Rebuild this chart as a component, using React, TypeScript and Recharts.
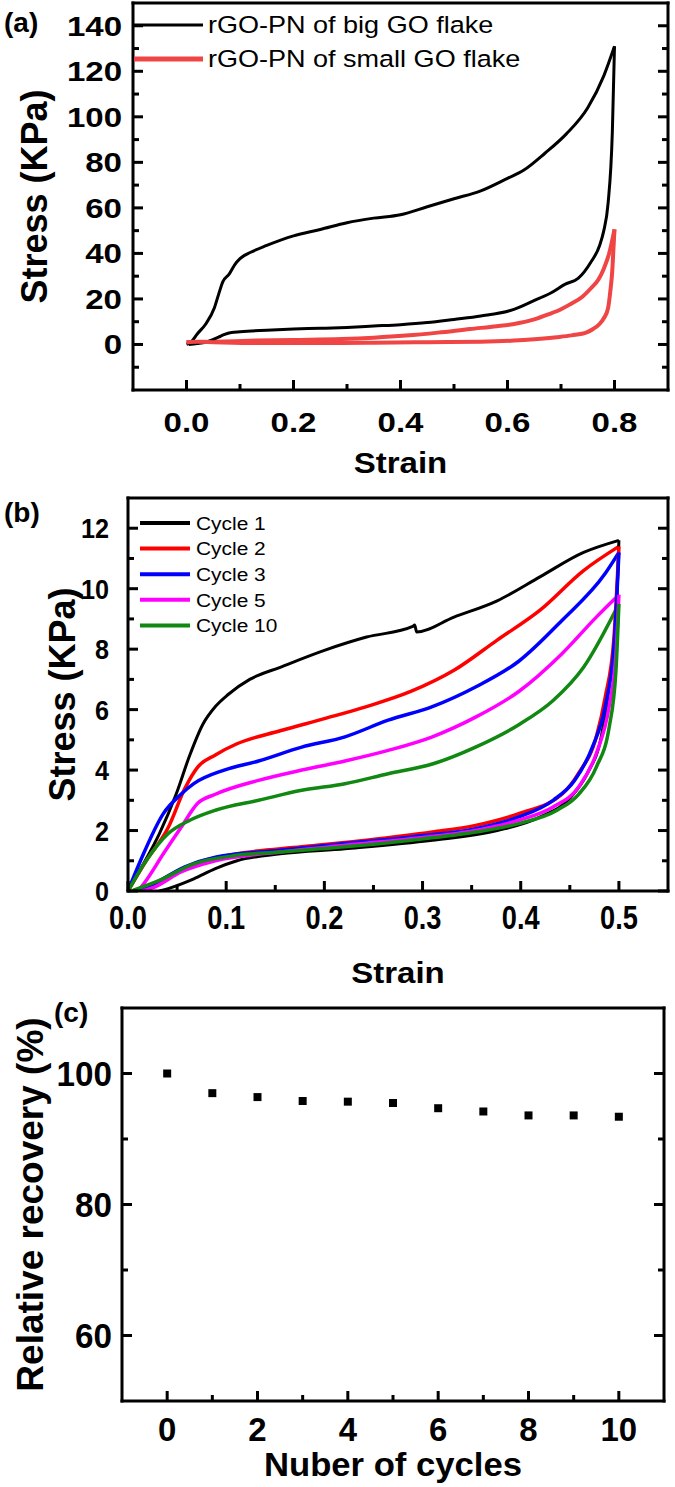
import React from 'react';
import { LineChart, Line, XAxis, YAxis, Legend, ScatterChart, Scatter } from 'recharts';

const FONT = "'Liberation Sans', Arial, Helvetica, sans-serif";

// ---------------- Panel (a) ----------------
const aTicksX = [0, 0.1, 0.2, 0.3, 0.4, 0.5, 0.6, 0.7, 0.8];
const aTicksY = [-10, 0, 10, 20, 30, 40, 50, 60, 70, 80, 90, 100, 110, 120, 130, 140];

const bigLoadStrain = [
  0, 0.01, 0.02, 0.036, 0.052, 0.06, 0.068, 0.08, 0.09, 0.1, 0.12, 0.15, 0.2, 0.25, 0.3, 0.35, 0.4, 0.45,
  0.5, 0.55, 0.6, 0.63, 0.67, 0.71, 0.75, 0.78, 0.8,
];
const bigLoadStress = [
  0, 1.5, 4.6, 9, 16, 22, 27.6, 31, 35, 37.7, 40.5, 43.5, 47.7, 50.5, 53.5, 55.5, 57, 60.5,
  64, 67.5, 73, 76.5, 84, 92.5, 104, 118, 131,
];
const bigUnloadStrain = [
  0.8, 0.796, 0.788, 0.78, 0.772, 0.756, 0.732, 0.708, 0.68, 0.66, 0.612, 0.55, 0.5, 0.45, 0.4, 0.35, 0.3,
  0.25, 0.2, 0.15, 0.1, 0.084, 0.07, 0.06, 0.048, 0.036, 0.02, 0.004,
];
const bigUnloadStress = [
  131, 93.7, 62, 50, 43.4, 36.2, 29, 26.5, 22.5, 20.4, 15.4, 12.5, 11, 9.6, 8.7, 8.1, 7.5,
  7.1, 6.8, 6.3, 5.6, 5.3, 4.3, 3.2, 2, 1, 0.4, 0,
];
const smallLoadStrain = [
  0, 0.05, 0.13, 0.2, 0.29, 0.35, 0.41, 0.47, 0.53, 0.58, 0.61, 0.65, 0.676, 0.7, 0.716, 0.74, 0.756, 0.77,
  0.78, 0.79, 0.8,
];
const smallLoadStress = [
  1, 1.2, 1.7, 2, 2.4, 3, 3.9, 5.2, 6.8, 8, 8.9, 11, 13.2, 15.5, 17.5, 21, 24.7, 28.5,
  33.3, 40, 50.6,
];
const smallUnloadStrain = [
  0.8, 0.798, 0.796, 0.792, 0.788, 0.78, 0.772, 0.76, 0.748, 0.72, 0.692, 0.65, 0.612, 0.55, 0.452, 0.35,
  0.29, 0.2, 0.13, 0.05, 0.02, 0,
];
const smallUnloadStress = [
  50.6, 42, 33, 23, 16, 11.5, 9, 6.8, 5.3, 4, 3.2, 2.3, 1.7, 1.2, 1, 0.8,
  0.7, 0.65, 0.6, 1, 1.2, 1,
];

// ---------------- Panel (b) ----------------
const bTicksX = [0, 0.05, 0.1, 0.15, 0.2, 0.25, 0.3, 0.35, 0.4, 0.45, 0.5];
const bTicksY = [0, 1, 2, 3, 4, 5, 6, 7, 8, 9, 10, 11, 12];

const cycle1LoadStrain = [0, 0.014, 0.032, 0.049, 0.063, 0.076, 0.089, 0.102, 0.124, 0.155, 0.2, 0.243, 0.29, 0.292, 0.294, 0.332, 0.376, 0.42, 0.464, 0.5];
const cycle1LoadStress = [0, 0.8, 1.9, 3.2, 4.5, 5.5, 6.1, 6.5, 7.0, 7.4, 7.96, 8.4, 8.75, 8.8, 8.57, 9.06, 9.6, 10.4, 11.2, 11.6];
const cycle1UnloadStrain = [0.5, 0.497, 0.49, 0.482, 0.468, 0.451, 0.42, 0.376, 0.31, 0.221, 0.155, 0.111, 0.089, 0.067, 0.041, 0.032];
const cycle1UnloadStress = [11.6, 8.95, 6.75, 5.1, 3.9, 3.1, 2.45, 2.0, 1.68, 1.4, 1.23, 1.0, 0.74, 0.4, 0.08, 0];

const cycle2LoadStrain = [0, 0.0185, 0.041, 0.058, 0.071, 0.089, 0.111, 0.155, 0.2, 0.243, 0.288, 0.332, 0.376, 0.42, 0.464, 0.5];
const cycle2LoadStress = [0, 1.0, 2.1, 3.4, 4.1, 4.5, 4.87, 5.3, 5.7, 6.1, 6.6, 7.3, 8.3, 9.3, 10.6, 11.4];
const cycle2UnloadStrain = [0.5, 0.495, 0.486, 0.477, 0.459, 0.442, 0.398, 0.354, 0.31, 0.243, 0.177, 0.111, 0.067, 0.036, 0.014];
const cycle2UnloadStress = [11.4, 8.4, 6.4, 5.1, 3.9, 3.2, 2.56, 2.17, 1.95, 1.68, 1.46, 1.23, 0.9, 0.35, 0];

const cycle3LoadStrain = [0, 0.014, 0.036, 0.054, 0.067, 0.098, 0.133, 0.177, 0.221, 0.265, 0.31, 0.354, 0.398, 0.442, 0.486, 0.5];
const cycle3LoadStress = [0, 1.1, 2.56, 3.2, 3.55, 4.0, 4.3, 4.76, 5.1, 5.65, 6.1, 6.75, 7.6, 8.95, 10.5, 11.2];
const cycle3UnloadStrain = [0.5, 0.495, 0.486, 0.473, 0.455, 0.433, 0.398, 0.354, 0.288, 0.221, 0.155, 0.089, 0.058, 0.027, 0.01];
const cycle3UnloadStress = [11.2, 8.1, 6.1, 4.76, 3.66, 3.0, 2.45, 2.06, 1.79, 1.57, 1.35, 1.12, 0.8, 0.25, 0];

const cycle5LoadStrain = [0.01, 0.0185, 0.036, 0.054, 0.071, 0.089, 0.133, 0.177, 0.221, 0.265, 0.31, 0.354, 0.398, 0.442, 0.477, 0.5];
const cycle5LoadStress = [0, 0.35, 1.23, 2.1, 2.9, 3.2, 3.66, 4.0, 4.3, 4.65, 5.1, 5.75, 6.6, 7.85, 9.06, 9.8];
const cycle5UnloadStrain = [0.5, 0.497, 0.49, 0.477, 0.459, 0.433, 0.398, 0.354, 0.288, 0.221, 0.155, 0.089, 0.054, 0.027, 0.014];
const cycle5UnloadStress = [9.8, 7.85, 6.1, 4.55, 3.44, 2.78, 2.34, 2.0, 1.73, 1.51, 1.29, 1.0, 0.63, 0.13, 0];

const cycle10LoadStrain = [0, 0.0185, 0.041, 0.063, 0.089, 0.133, 0.177, 0.221, 0.265, 0.31, 0.354, 0.398, 0.433, 0.464, 0.5];
const cycle10LoadStress = [0, 1.0, 1.9, 2.34, 2.67, 3.0, 3.33, 3.55, 3.88, 4.2, 4.76, 5.5, 6.3, 7.4, 9.5];
const cycle10UnloadStrain = [0.5, 0.497, 0.49, 0.477, 0.459, 0.437, 0.398, 0.354, 0.288, 0.221, 0.155, 0.111, 0.067, 0.032, 0.005];
const cycle10UnloadStress = [9.5, 7.3, 5.4, 4.1, 3.2, 2.67, 2.23, 1.95, 1.68, 1.46, 1.29, 1.18, 0.9, 0.35, 0.02];

// ---------------- Panel (c) ----------------
const cTicksX = [0, 1, 2, 3, 4, 5, 6, 7, 8, 9, 10];
const cTicksY = [60, 70, 80, 90, 100];
const cycleNumbers = [0, 1, 2, 3, 4, 5, 6, 7, 8, 9, 10];
const relativeRecovery = [100, 97.0, 96.4, 95.8, 95.7, 95.5, 94.7, 94.2, 93.6, 93.6, 93.4];

const zip = (xs: number[], ys: number[]) => xs.map((x, i) => ({ x, y: ys[i] }));

// ---------------- helpers ----------------
type Side = 'bottom' | 'top' | 'left' | 'right';
type TickCfg = {
  side: Side;
  majorStep: number;
  showLabel?: boolean;
  fontSize?: number;
  scaleX?: number;
  gap?: number;
  digits?: number;
};

const isMajor = (v: number, step: number) => Math.abs(v / step - Math.round(v / step)) < 1e-6;

function makeTick(c: TickCfg) {
  return function Tick(props: any) {
    const x = Number(props.x);
    const y = Number(props.y);
    const v = Number(props.payload && props.payload.value);
    const major = isMajor(v, c.majorStep);
    const len = major ? 10 : 6;
    const t = 3;
    let rx = x - t / 2;
    let ry = y - t / 2;
    let rw = t;
    let rh = t;
    if (c.side === 'bottom') { ry = y - len; rh = len; }
    if (c.side === 'top') { ry = y; rh = len; }
    if (c.side === 'left') { rx = x; rw = len; }
    if (c.side === 'right') { rx = x - len; rw = len; }
    let label: React.ReactNode = null;
    if (c.showLabel && major) {
      const txt = c.digits ? v.toFixed(c.digits) : String(v);
      const fs = c.fontSize || 28;
      const cap = fs * 0.716;
      const sx = c.scaleX || 1;
      if (c.side === 'bottom') {
        label = (
          <text transform={`translate(${x},${y + (c.gap || 0) + cap / 2}) scale(${sx},1)`} textAnchor="middle" fontFamily={FONT} fontWeight={700} fontSize={fs} fill="#000">
            {txt}
          </text>
        );
      } else if (c.side === 'left') {
        label = (
          <text transform={`translate(${x - (c.gap || 0)},${y + cap / 2}) scale(${sx},1)`} textAnchor="end" fontFamily={FONT} fontWeight={700} fontSize={fs} fill="#000">
            {txt}
          </text>
        );
      }
    }
    return (
      <g>
        <rect x={rx} y={ry} width={rw} height={rh} fill="#000" stroke="none" />
        {label}
      </g>
    );
  };
}

function xTitle(text: string, dy: number, fs: number, sx: number) {
  return (props: any) => {
    const vb = props.viewBox || {};
    const cx = vb.x + vb.width / 2;
    const cy = vb.y + dy + (fs * 0.716) / 2;
    return (
      <text transform={`translate(${cx},${cy}) scale(${sx},1)`} textAnchor="middle" fontFamily={FONT} fontWeight={700} fontSize={fs} fill="#000">
        {text}
      </text>
    );
  };
}

function yTitle(text: string, dxFromPlot: number, fs: number) {
  return (props: any) => {
    const vb = props.viewBox || {};
    const plotLeft = vb.x + vb.width;
    const cx = plotLeft - dxFromPlot + (fs * 0.716) / 2;
    const cy = vb.y + vb.height / 2;
    return (
      <text transform={`translate(${cx},${cy}) rotate(-90)`} textAnchor="middle" fontFamily={FONT} fontWeight={700} fontSize={fs} fill="#000">
        {text}
      </text>
    );
  };
}

function makeLegend(cfg: { x1: number; x2: number; tx: number; y0: number; dy: number; fs: number; sx: number; widths: number[]; order: string[] }) {
  return (props: any) => {
    const raw = ((props.payload || []) as any[]).filter((it) => it.type !== 'none');
    const items = cfg.order.map((name) => raw.find((it) => it.value === name)).filter(Boolean) as any[];
    return (
      <svg width={675} height={cfg.y0 + cfg.dy * items.length + 10} style={{ display: 'block', overflow: 'visible' }}>
        {items.map((it, i) => {
          const y = cfg.y0 + i * cfg.dy;
          return (
            <g key={String(it.value)}>
              <line x1={cfg.x1} x2={cfg.x2} y1={y} y2={y} stroke={it.color} strokeWidth={cfg.widths[i] || 3} />
              <text
                transform={`translate(${cfg.tx},${y + (cfg.fs * 0.716) / 2}) scale(${cfg.sx},1)`}
                fontFamily={FONT}
                fontSize={cfg.fs}
                fill="#000"
              >
                {it.value}
              </text>
            </g>
          );
        })}
      </svg>
    );
  };
}

const frame = { stroke: '#000', strokeWidth: 3, strokeLinecap: 'square' as const };

function axisCommon() {
  return {
    type: 'number' as const,
    allowDataOverflow: true,
    interval: 0 as const,
    tickLine: false,
    tickSize: 0,
    tickMargin: 0,
    axisLine: frame,
  };
}

function PanelA() {
  const series = [
    { name: 'rGO-PN of big GO flake', load: zip(bigLoadStrain, bigLoadStress), unload: zip(bigUnloadStrain, bigUnloadStress), color: '#000000', w: 3 },
    { name: 'rGO-PN of small GO flake', load: zip(smallLoadStrain, smallLoadStress), unload: zip(smallUnloadStrain, smallUnloadStress), color: '#f04545', w: 4 },
  ];
  return (
    <LineChart width={675} height={495} margin={{ top: 2, right: 6, bottom: 45, left: 73 }}>
      <XAxis {...axisCommon()} xAxisId="b" dataKey="x" domain={[-0.1, 0.9]} ticks={aTicksX} height={60}
        tick={makeTick({ side: 'bottom', majorStep: 0.2, showLabel: true, fontSize: 28, scaleX: 1.18, gap: 32, digits: 1 })}
        label={xTitle('Strain', 72, 30, 1.1)} />
      <XAxis {...axisCommon()} xAxisId="t" orientation="top" domain={[-0.1, 0.9]} ticks={aTicksX} height={1}
        tick={makeTick({ side: 'top', majorStep: 0.2 })} />
      <YAxis {...axisCommon()} yAxisId="l" dataKey="y" domain={[-20, 150]} ticks={aTicksY} width={60}
        tick={makeTick({ side: 'left', majorStep: 20, showLabel: true, fontSize: 28, scaleX: 1.18, gap: 11 })}
        label={yTitle('Stress (KPa)', 99, 36)} />
      <YAxis {...axisCommon()} yAxisId="r" orientation="right" domain={[-20, 150]} ticks={aTicksY} width={1}
        tick={makeTick({ side: 'right', majorStep: 20 })} />
      <Legend
        layout="vertical"
        align="center"
        verticalAlign="middle"
        wrapperStyle={{ left: 0, top: 0, width: 675, height: 80 }}
        content={makeLegend({ x1: 134, x2: 203, tx: 208, y0: 25, dy: 34, fs: 23.5, sx: 1.15, widths: [3, 5], order: series.map((s) => s.name) })}
      />
      {series.map((s) => (
        <Line key={s.name + '-load'} xAxisId="b" yAxisId="l" name={s.name} data={s.load} dataKey="y" type="monotone"
          stroke={s.color} strokeWidth={s.w} dot={false} isAnimationActive={false} />
      ))}
      {series.map((s) => (
        <Line key={s.name + '-unload'} xAxisId="b" yAxisId="l" name={s.name + ' (unloading)'} legendType="none" data={s.unload} dataKey="y" type="monotone"
          stroke={s.color} strokeWidth={s.w} dot={false} isAnimationActive={false} />
      ))}
    </LineChart>
  );
}

function PanelB() {
  const series = [
    { name: 'Cycle 1', load: zip(cycle1LoadStrain, cycle1LoadStress), unload: zip(cycle1UnloadStrain, cycle1UnloadStress), color: '#000000', w: 3 },
    { name: 'Cycle 2', load: zip(cycle2LoadStrain, cycle2LoadStress), unload: zip(cycle2UnloadStrain, cycle2UnloadStress), color: '#ff0000', w: 3.5 },
    { name: 'Cycle 3', load: zip(cycle3LoadStrain, cycle3LoadStress), unload: zip(cycle3UnloadStrain, cycle3UnloadStress), color: '#0000ff', w: 3.5 },
    { name: 'Cycle 5', load: zip(cycle5LoadStrain, cycle5LoadStress), unload: zip(cycle5UnloadStrain, cycle5UnloadStress), color: '#ff00ff', w: 3.5 },
    { name: 'Cycle 10', load: zip(cycle10LoadStrain, cycle10LoadStress), unload: zip(cycle10UnloadStrain, cycle10UnloadStress), color: '#118811', w: 3.5 },
  ];
  return (
    <LineChart width={675} height={505} margin={{ top: 2, right: 6, bottom: 49, left: 68 }}>
      <XAxis {...axisCommon()} xAxisId="b" dataKey="x" domain={[0, 0.55]} ticks={bTicksX} height={60}
        tick={makeTick({ side: 'bottom', majorStep: 0.1, showLabel: true, fontSize: 34, scaleX: 0.8, gap: 26, digits: 1 })}
        label={xTitle('Strain', 81, 30, 1.1)} />
      <XAxis {...axisCommon()} xAxisId="t" orientation="top" domain={[0, 0.55]} ticks={bTicksX} height={1}
        tick={makeTick({ side: 'top', majorStep: 0.1 })} />
      <YAxis {...axisCommon()} yAxisId="l" dataKey="y" domain={[0, 13]} ticks={bTicksY} width={60}
        tick={makeTick({ side: 'left', majorStep: 2, showLabel: true, fontSize: 28, scaleX: 0.9, gap: 19 })}
        label={yTitle('Stress (KPa)', 66, 36)} />
      <YAxis {...axisCommon()} yAxisId="r" orientation="right" domain={[0, 13]} ticks={bTicksY} width={1}
        tick={makeTick({ side: 'right', majorStep: 2 })} />
      <Legend
        layout="vertical"
        align="center"
        verticalAlign="middle"
        wrapperStyle={{ left: 0, top: 0, width: 675, height: 150 }}
        content={makeLegend({ x1: 140, x2: 190, tx: 196, y0: 28, dy: 25.6, fs: 19, sx: 1.1, widths: [4, 4, 4, 4, 4], order: series.map((s) => s.name) })}
      />
      {series.map((s) => (
        <Line key={s.name + '-load'} xAxisId="b" yAxisId="l" name={s.name} data={s.load} dataKey="y" type="monotone"
          stroke={s.color} strokeWidth={s.w} dot={false} isAnimationActive={false} />
      ))}
      {series.map((s) => (
        <Line key={s.name + '-unload'} xAxisId="b" yAxisId="l" name={s.name + ' (unloading)'} legendType="none" data={s.unload} dataKey="y" type="monotone"
          stroke={s.color} strokeWidth={s.w} dot={false} isAnimationActive={false} />
      ))}
    </LineChart>
  );
}

function PanelC() {
  return (
    <ScatterChart width={675} height={487} margin={{ top: 7, right: 10, bottom: 26, left: 62 }}>
      <XAxis {...axisCommon()} xAxisId="b" dataKey="x" domain={[-1, 11]} ticks={cTicksX} height={60}
        tick={makeTick({ side: 'bottom', majorStep: 2, showLabel: true, fontSize: 34, scaleX: 0.97, gap: 28 })}
        label={xTitle('Nuber of cycles', 63, 33, 1.05)} />
      <XAxis {...axisCommon()} xAxisId="t" orientation="top" domain={[-1, 11]} ticks={cTicksX} height={1}
        tick={makeTick({ side: 'top', majorStep: 2 })} />
      <YAxis {...axisCommon()} yAxisId="l" dataKey="y" domain={[50, 110]} ticks={cTicksY} width={60}
        tick={makeTick({ side: 'left', majorStep: 20, showLabel: true, fontSize: 35, scaleX: 0.95, gap: 10 })}
        label={yTitle('Relative recovery (%)', 92, 37)} />
      <YAxis {...axisCommon()} yAxisId="r" orientation="right" domain={[50, 110]} ticks={cTicksY} width={1}
        tick={makeTick({ side: 'right', majorStep: 20 })} />
      <Scatter xAxisId="b" yAxisId="l" name="Relative recovery" data={zip(cycleNumbers, relativeRecovery)}
        shape="square" fill="#000" isAnimationActive={false} />
    </ScatterChart>
  );
}

export default function App() {
  return (
    <div style={{ position: 'absolute', left: 0, top: 0, width: 675, height: 1487, background: '#fff', overflow: 'hidden' }}>
      <div style={{ position: 'absolute', left: 0, top: 0 }}>
        <PanelA />
      </div>
      <div style={{ position: 'absolute', left: 0, top: 495 }}>
        <PanelB />
      </div>
      <div style={{ position: 'absolute', left: 0, top: 1000 }}>
        <PanelC />
      </div>
      <svg width={675} height={1487} style={{ position: 'absolute', left: 0, top: 0, pointerEvents: 'none' }}>
        <g fontFamily={FONT} fontWeight={700} fontSize={28} fill="#000">
          <text x={4} y={32}>(a)</text>
          <text x={4} y={522}>(b)</text>
          <text x={54} y={1022}>(c)</text>
        </g>
      </svg>
    </div>
  );
}
